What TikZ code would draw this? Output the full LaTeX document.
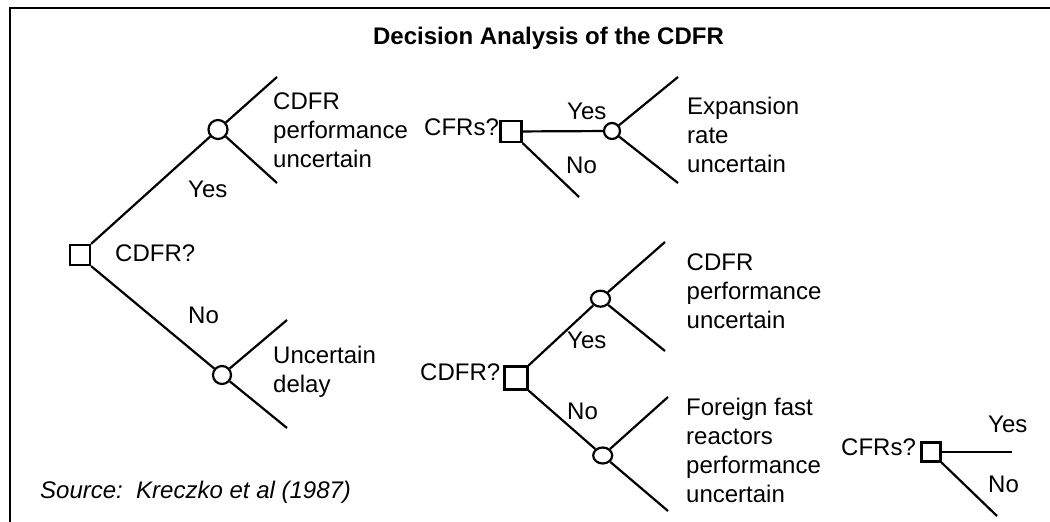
\documentclass[tikz,border=0pt]{standalone}
\usepackage{fontspec}
\setmainfont{Liberation Sans}
\usetikzlibrary{shapes.geometric}
\begin{document}
\begin{tikzpicture}[x=1pt,y=-1pt,
  every node/.style={font=\fontsize{24}{29}\selectfont},
  lbl/.style={anchor=base west,inner sep=0pt,align=left},
  decbox/.style={draw,rectangle,line width=2.2pt,inner sep=0pt,minimum size=#1,fill=white},
  chance/.style={draw,ellipse,line width=2.2pt,inner sep=0pt,fill=white},
  branch/.style={line width=2.2pt},
  frameline/.style={line width=2.5pt}]
\useasboundingbox (0,0) rectangle (1050,522);
\draw[frameline] (10,530) -- (10,8) -- (1060,8);

% title
\node[anchor=base,inner sep=0pt,font=\fontsize{24}{29}\selectfont\bfseries] (title) at (548.5,44) {Decision Analysis of the CDFR};

% group A
\node[decbox=20pt] (dA) at (80,255) {};
\node[chance,minimum width=19pt,minimum height=19pt] (cA1) at (218,129.5) {};
\node[chance,minimum width=18pt,minimum height=18pt] (cA2) at (222,375) {};
\coordinate (eA1) at (277,77);
\coordinate (eA2) at (277,183);
\coordinate (eA3) at (287,320);
\coordinate (eA4) at (287,428);
\draw[branch] (dA.north east) -- (cA1);
\draw[branch] (dA.south east) -- (cA2);
\draw[branch] (cA1) -- (eA1);
\draw[branch] (cA1) -- (eA2);
\draw[branch] (cA2) -- (eA3);
\draw[branch] (cA2) -- (eA4);
\node[lbl] (tA1) at (273,167) {CDFR\\performance\\uncertain};
\node[lbl] (yA) at (188,197) {Yes};
\node[lbl] (qA) at (115,261) {CDFR?};
\node[lbl] (nA) at (188,323) {No};
\node[lbl] (tA2) at (273,392) {Uncertain\\delay};
\node[lbl,font=\fontsize{24}{29}\selectfont\itshape] (src) at (40,498) {Source:\ \ Kreczko et al (1987)};

% group B
\node[decbox=21pt] (dB) at (511,131.5) {};
\node[chance,minimum width=16pt,minimum height=16pt] (cB) at (612,131) {};
\coordinate (eB0) at (579,197);
\coordinate (eB1) at (678,77);
\coordinate (eB2) at (678,183);
\draw[branch] (dB) -- (cB);
\draw[branch] (dB.south east) -- (eB0);
\draw[branch] (cB) -- (eB1);
\draw[branch] (cB) -- (eB2);
\node[lbl] (qB) at (424,135) {CFRs?};
\node[lbl] (yB) at (567,119) {Yes};
\node[lbl] (nB) at (566,173) {No};
\node[lbl] (tB) at (687,172.5) {Expansion\\rate\\uncertain};

% group C
\node[decbox=23pt] (dC) at (516,378) {};
\node[chance,minimum width=19pt,minimum height=16pt] (cC1) at (600.5,298.7) {};
\node[chance,minimum width=19pt,minimum height=16pt] (cC2) at (602.7,455.5) {};
\coordinate (eC1) at (665,242);
\coordinate (eC2) at (665,351);
\coordinate (eC3) at (668,397);
\coordinate (eC4) at (668,511);
\draw[branch] (dC.north east) -- (cC1);
\draw[branch] (dC.south east) -- (cC2);
\draw[branch] (cC1) -- (eC1);
\draw[branch] (cC1) -- (eC2);
\draw[branch] (cC2) -- (eC3);
\draw[branch] (cC2) -- (eC4);
\node[lbl] (qC) at (420,380) {CDFR?};
\node[lbl] (yC) at (567,348) {Yes};
\node[lbl] (nC) at (567,419) {No};
\node[lbl] (tC1) at (686.5,328.5) {CDFR\\performance\\uncertain};
\node[lbl] (tC2) at (686,502) {Foreign fast\\reactors\\performance\\uncertain};

% group D
\node[decbox=19pt] (dD) at (931,452) {};
\coordinate (eD1) at (1012,452);
\coordinate (eD2) at (997,516);
\draw[branch] (dD) -- (eD1);
\draw[branch] (dD.south east) -- (eD2);
\node[lbl] (qD) at (841,455) {CFRs?};
\node[lbl] (yD) at (988,432) {Yes};
\node[lbl] (nD) at (988,492) {No};
\end{tikzpicture}
\end{document}
